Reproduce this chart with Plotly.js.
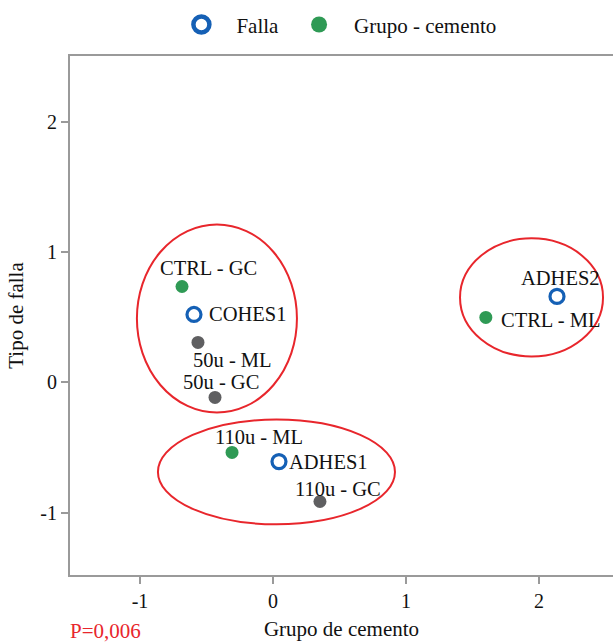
<!DOCTYPE html>
<html>
<head>
<meta charset="utf-8">
<script src="https://cdn.plot.ly/plotly-3.0.1.min.js"></script>
<style>html,body{margin:0;padding:0;background:#fff;}#chart{width:613px;height:642px;}</style>
</head>
<body>
<div id="chart"></div>
<script>
// Falla (failure type) points
const fallaLabels = ["COHES1", "ADHES1", "ADHES2"];
const fallaX = [-0.594, 0.045, 2.135];
const fallaY = [0.523, -0.608, 0.662];

// Grupo - cemento points (green)
const grupoLabels = ["CTRL - GC", "110u - ML", "CTRL - ML"];
const grupoX = [-0.684, -0.308, 1.60];
const grupoY = [0.738, -0.538, 0.50];

// Other group points (grey)
const otherLabels = ["50u - ML", "50u - GC", "110u - GC"];
const otherX = [-0.564, -0.436, 0.353];
const otherY = [0.308, -0.115, -0.915];

// Cluster ellipses [x0, x1, y0, y1]
const clusterX0 = [-1.023, -0.865, 1.406];
const clusterX1 = [0.180, 0.917, 2.481];
const clusterY0 = [-0.231, -1.09, 0.200];
const clusterY1 = [1.215, -0.285, 1.108];

const xTicks = [-1, 0, 1, 2];
const yTicks = [-1, 0, 1, 2];

// label offsets in pixels (style only): [xshift, yshift]
const fallaOff = [[13, 0], [8, 0], [-38, 18]];
const grupoOff = [[-24, 18], [-19, 15], [13, -3]];
const otherOff = [[-7, -18], [-34, 15], [-27, 13]];

const serif = "Liberation Serif, DejaVu Serif, serif";
const blue = "#1560b5";
const green = "#2f9a55";
const grey = "#5f5f61";
const red = "#e8262c";
const labelSize = 20.5;

const traces = [
  {
    type: "scatter", mode: "markers", name: "Falla", showlegend: false,
    x: fallaX, y: fallaY, text: fallaLabels,
    marker: {symbol: "circle", size: 14, color: "#fff", line: {color: blue, width: 3.2}},
    cliponaxis: false
  },
  {
    type: "scatter", mode: "markers", name: "Grupo - cemento", showlegend: false,
    x: grupoX, y: grupoY, text: grupoLabels,
    marker: {symbol: "circle", size: 13, color: green},
    cliponaxis: false
  },
  {
    type: "scatter", mode: "markers", name: "Otros", showlegend: false,
    x: otherX, y: otherY, text: otherLabels,
    marker: {symbol: "circle", size: 13, color: grey},
    cliponaxis: false
  },
  // legend entries (larger symbols)
  {
    type: "scatter", mode: "markers", name: "Falla",
    x: [null], y: [null],
    marker: {symbol: "circle", size: 16, color: "#fff", line: {color: blue, width: 4.5}}
  },
  {
    type: "scatter", mode: "markers", name: "Grupo - cemento",
    x: [null], y: [null],
    marker: {symbol: "circle", size: 16, color: green}
  }
];

function labelAnns(xs, ys, labels, offs) {
  return labels.map((t, i) => ({
    text: t, x: xs[i], y: ys[i], xref: "x", yref: "y",
    showarrow: false, xanchor: "left", yanchor: "middle",
    xshift: offs[i][0], yshift: offs[i][1],
    font: {family: serif, size: labelSize, color: "#111"}
  }));
}

const shapes = clusterX0.map((x0, i) => ({
  type: "circle", xref: "x", yref: "y",
  x0: x0, x1: clusterX1[i], y0: clusterY0[i], y1: clusterY1[i],
  line: {color: red, width: 2}, fillcolor: "rgba(0,0,0,0)", layer: "above"
}));

const annotations = []
  .concat(labelAnns(fallaX, fallaY, fallaLabels, fallaOff))
  .concat(labelAnns(grupoX, grupoY, grupoLabels, grupoOff))
  .concat(labelAnns(otherX, otherY, otherLabels, otherOff))
  .concat([{
    text: "P=0,006", xref: "paper", yref: "paper", x: 0, y: -0.108,
    xshift: -2, xanchor: "left", yanchor: "middle", showarrow: false,
    font: {family: serif, size: 21, color: red}
  }]);

const layout = {
  width: 613, height: 642,
  margin: {l: 70, r: 0, t: 56, b: 67},
  paper_bgcolor: "#fff", plot_bgcolor: "#fff",
  font: {family: serif, size: 20, color: "#111"},
  showlegend: true,
  legend: {
    orientation: "h", x: 0.486, xanchor: "center",
    y: 1.06, yanchor: "middle",
    font: {family: serif, size: 21, color: "#111"},
    itemwidth: 60, bgcolor: "rgba(0,0,0,0)"
  },
  xaxis: {
    range: [-1.526, 2.556], tickvals: xTicks, ticktext: xTicks.map(String),
    showgrid: false, zeroline: false, showline: true, mirror: true,
    linecolor: "#9a9a9a", linewidth: 2,
    ticks: "outside", ticklen: 7, tickwidth: 2, tickcolor: "#9a9a9a",
    tickfont: {family: serif, size: 20, color: "#111"},
    title: {text: "Grupo de cemento", font: {family: serif, size: 21, color: "#111"}, standoff: 10}
  },
  yaxis: {
    range: [-1.48, 2.51], tickvals: yTicks, ticktext: yTicks.map(String),
    showgrid: false, zeroline: false, showline: true, mirror: false,
    linecolor: "#9a9a9a", linewidth: 2,
    ticks: "outside", ticklen: 7, tickwidth: 2, tickcolor: "#9a9a9a",
    tickfont: {family: serif, size: 20, color: "#111"},
    title: {text: "Tipo de falla", font: {family: serif, size: 21, color: "#111"}, standoff: 11}
  },
  shapes: shapes,
  annotations: annotations
};

Plotly.newPlot("chart", traces, layout, {displayModeBar: false, staticPlot: true});
</script>
</body>
</html>
